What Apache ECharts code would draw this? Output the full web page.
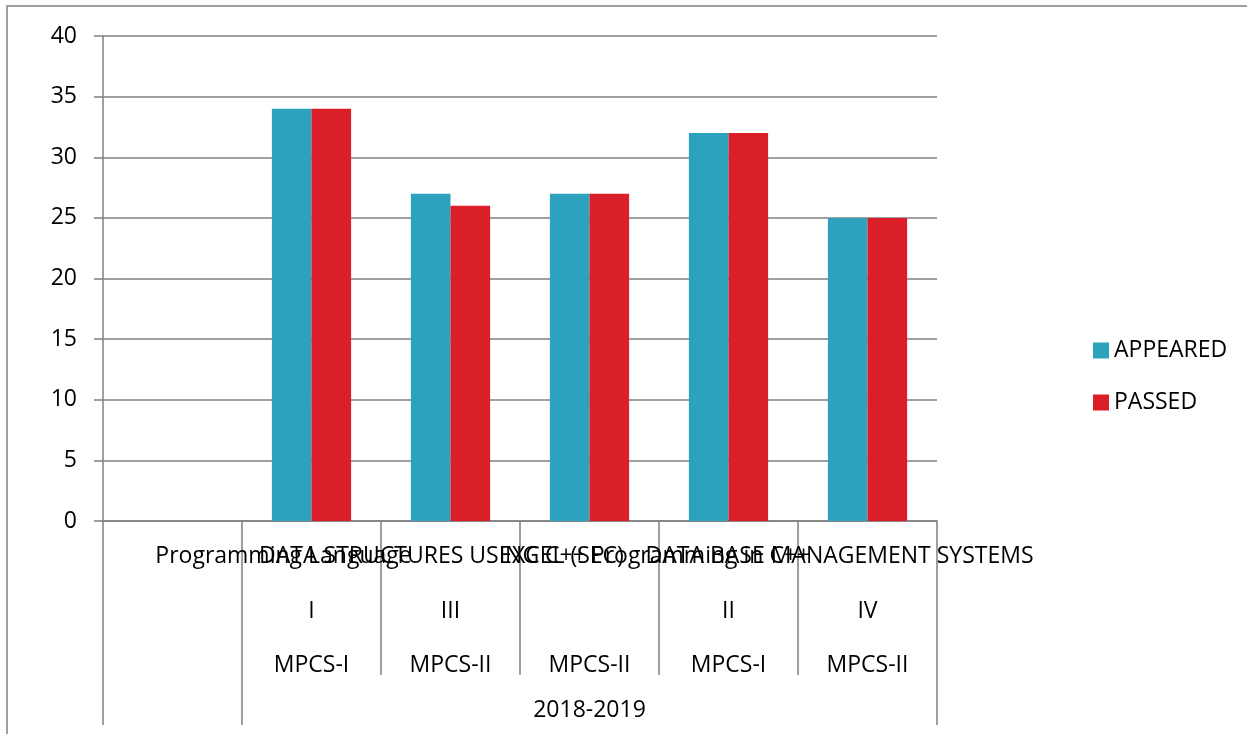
<!DOCTYPE html>
<html>
<head>
<meta charset="utf-8">
<script src="https://cdn.jsdelivr.net/npm/echarts@6/dist/echarts.min.js"></script>
<style>
  html, body { margin: 0; padding: 0; background: #fff; }
  #chart { width: 1247px; height: 734px; }
</style>
</head>
<body>
<div id="chart"></div>
<script>
const subjects = ['', 'Programming Language', 'DATA STRUCTURES USING C++', 'EXCEL (SEC)', 'Programming in C++', 'DATA BASE MANAGEMENT SYSTEMS']
const semesters = ['', 'I', 'III', '', 'II', 'IV']
const classes = ['', 'MPCS-I', 'MPCS-II', 'MPCS-II', 'MPCS-I', 'MPCS-II']
const years = ['', '', '', '2018-2019', '', '']
const appeared = [null, 34, 27, 27, 32, 25]
const passed = [null, 34, 26, 27, 32, 25]
const yTicks = { min: 0, max: 40, interval: 5 }

const font = 'Open Sans'
const fs = 23
const gray = '#808080'
const colors = ['#2ca2bf', '#da1f29']

const chart = echarts.init(document.getElementById('chart'))

function levelAxis(data, margin, extra) {
  return Object.assign({
    type: 'category',
    position: 'bottom',
    data: data,
    axisLine: { show: false },
    axisTick: { show: false },
    axisLabel: { interval: 0, margin: margin, color: '#000', fontSize: fs, fontFamily: font, hideOverlap: false },
  }, extra || {})
}

chart.setOption({
  animation: false,
  textStyle: { fontFamily: font },
  graphic: [{
    type: 'rect', z: -10, silent: true,
    shape: { x: 7, y: 6, width: 1260, height: 760 },
    style: { fill: 'none', stroke: gray, lineWidth: 1.5 },
  }],
  legend: {
    orient: 'vertical', left: 1093, top: 339, padding: 0,
    itemWidth: 16, itemHeight: 16, itemGap: 29,
    icon: 'rect',
    textStyle: { color: '#000', fontSize: fs, fontFamily: font, lineHeight: 20 },
    data: ['APPEARED', 'PASSED'],
  },
  grid: { left: 103, right: 310, top: 36, bottom: 213 },
  xAxis: [
    levelAxis(subjects, 24, {
      axisLine: { show: true, lineStyle: { color: gray, width: 1.5 } },
      axisTick: { show: true, length: 154, lineStyle: { color: gray, width: 1.5 } },
      axisLabel: { interval: 0, margin: 24, color: '#000', fontSize: fs, fontFamily: font, hideOverlap: false, overflow: 'none', padding: [0, 56, 0, 0] },
    }),
    levelAxis(semesters, 79),
    levelAxis(classes, 133),
    levelAxis(years, 178, {
      axisTick: { show: true, length: 204, interval: (i) => i === 0 || i === 1, lineStyle: { color: gray, width: 1.5 } },
    }),
  ],
  yAxis: {
    type: 'value',
    min: yTicks.min, max: yTicks.max, interval: yTicks.interval,
    axisLine: { show: true, lineStyle: { color: gray, width: 1.5 } },
    axisTick: { show: true, length: 9, lineStyle: { color: gray, width: 1.5 } },
    splitLine: { lineStyle: { color: gray, width: 1.5 } },
    axisLabel: { color: '#000', fontSize: fs, fontFamily: font, margin: 26 },
  },
  series: [
    { name: 'APPEARED', type: 'bar', data: appeared, barGap: 0, barCategoryGap: '43%', itemStyle: { color: colors[0] } },
    { name: 'PASSED', type: 'bar', data: passed, barGap: 0, barCategoryGap: '43%', itemStyle: { color: colors[1] } },
  ],
})
</script>
</body>
</html>
